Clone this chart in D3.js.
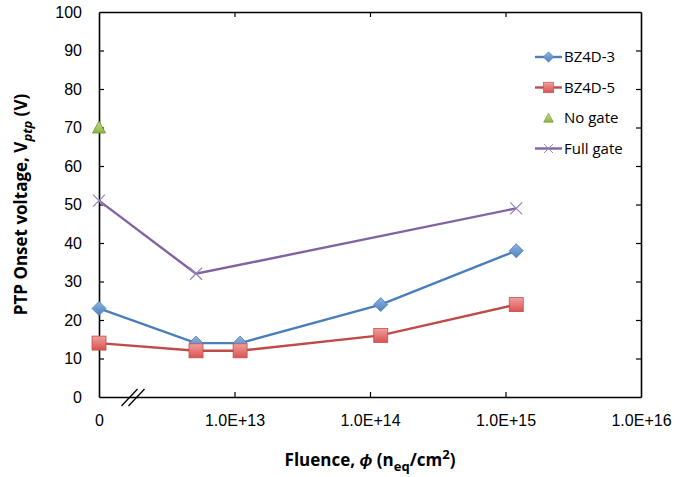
<!DOCTYPE html>
<html>
<head>
<meta charset="utf-8">
<script src="https://cdn.jsdelivr.net/npm/d3@7"></script>
<style>
  body { margin: 0; background: #fff; }
  svg { font-family: "Open Sans", "Liberation Sans", sans-serif; }
</style>
</head>
<body>
<div id="chart"></div>
<script>
// fluence 0 is drawn at the left edge (axis is broken there)
const fluenceBZ = [0, 5.2e12, 1.1e13, 1.2e14, 1.2e15];
const bz4d3 = [23, 14, 14, 24, 38];
const bz4d5 = [14, 12, 12, 16, 24];
const fluenceNoGate = [0];
const noGate = [70];
const fluenceFull = [0, 5.2e12, 1.2e15];
const fullGate = [51, 32, 49];

const xTickVals = [1e12, 1e13, 1e14, 1e15, 1e16];
const xTickLabels = ["0", "1.0E+13", "1.0E+14", "1.0E+15", "1.0E+16"];
const yTickVals = d3.range(0, 101, 10);

const W = 689, H = 477;
const m = {left: 99, top: 12, right: 48, bottom: 80};
const iw = W - m.left - m.right, ih = H - m.top - m.bottom;

const svg = d3.select("#chart").append("svg")
  .attr("width", W).attr("height", H);

const defs = svg.append("defs");
function grad(id, c1, c2) {
  const g = defs.append("linearGradient").attr("id", id)
    .attr("x1", 0).attr("y1", 0).attr("x2", 0).attr("y2", 1);
  g.append("stop").attr("offset", "0%").attr("stop-color", c1);
  g.append("stop").attr("offset", "100%").attr("stop-color", c2);
}
grad("gBlue", "#8fb3e0", "#4f81bd");
grad("gRed", "#f0a09e", "#d9534f");
grad("gGreen", "#c3dd8a", "#8db542");

const g = svg.append("g").attr("transform", `translate(${m.left},${m.top})`);

const x = d3.scaleLog().domain([1e12, 1e16]).range([0, iw]);
const fx = f => f === 0 ? x(1e12) : x(f);
const y = d3.scaleLinear().domain([0, 100]).range([ih, 0]);

// axes (ticks point inward, Excel style)
const xb = g.append("g").attr("transform", `translate(0,${ih})`)
  .call(d3.axisBottom(x).tickValues(xTickVals).tickSize(-5).tickSizeOuter(0)
    .tickFormat((d, i) => xTickLabels[i]));
const xt = g.append("g")
  .call(d3.axisTop(x).tickValues(xTickVals).tickSize(-5).tickSizeOuter(0).tickFormat(""));
const yl = g.append("g")
  .call(d3.axisLeft(y).tickValues(yTickVals).tickSize(-5).tickSizeOuter(0));
const yr = g.append("g").attr("transform", `translate(${iw},0)`)
  .call(d3.axisRight(y).tickValues(yTickVals).tickSize(-5).tickSizeOuter(0).tickFormat(""));

[xb, xt, yl, yr].forEach(a => {
  a.select(".domain").attr("stroke", "#000").attr("stroke-width", 1.6);
  a.selectAll(".tick line").attr("stroke", "#000").attr("stroke-width", 1.2);
  a.selectAll(".tick text").attr("fill", "#000").style("font-size", "16px");
});
xb.selectAll(".tick text").attr("dy", "1.65em");
yl.selectAll(".tick text").attr("x", -17);
// hide the edge ticks that sit on the frame
xb.selectAll(".tick line").filter((d, i) => i === 0 || i === 4).remove();
xt.selectAll(".tick line").filter((d, i) => i === 0 || i === 4).remove();
yl.selectAll(".tick line").filter((d, i) => i === 0 || i === 10).remove();
yr.selectAll(".tick line").filter((d, i) => i === 0 || i === 10).remove();

// axis break marks
const brk = g.append("g").attr("transform", `translate(${x(1e12) + 34},${ih})`);
[-3.5, 3.5].forEach(dx => {
  brk.append("line").attr("x1", dx - 8).attr("y1", 9).attr("x2", dx + 8).attr("y2", -8)
    .attr("stroke", "#000").attr("stroke-width", 1.3);
});

// series
const series = [
  {name: "BZ4D-3", xs: fluenceBZ, ys: bz4d3, color: "#4a7ebb", marker: "diamond", line: true},
  {name: "BZ4D-5", xs: fluenceBZ, ys: bz4d5, color: "#be4b48", marker: "square", line: true},
  {name: "No gate", xs: fluenceNoGate, ys: noGate, color: "#8db542", marker: "triangle", line: false},
  {name: "Full gate", xs: fluenceFull, ys: fullGate, color: "#8064a2", marker: "cross", line: true}
];

function drawMarker(sel, s) {
  if (s.marker === "diamond") {
    sel.append("path").attr("d", "M0,-7L7,0L0,7L-7,0Z")
      .attr("fill", "url(#gBlue)").attr("stroke", "#4a7ebb").attr("stroke-width", 0.8);
  } else if (s.marker === "square") {
    sel.append("rect").attr("x", -7).attr("y", -7).attr("width", 14).attr("height", 14)
      .attr("fill", "url(#gRed)").attr("stroke", "#c0504d").attr("stroke-width", 0.8);
  } else if (s.marker === "triangle") {
    sel.append("path").attr("d", "M0,-6.5L6.5,5.5L-6.5,5.5Z")
      .attr("fill", "url(#gGreen)").attr("stroke", "#6b8f2e").attr("stroke-width", 0.8);
  } else {
    sel.append("path").attr("d", "M-6,-6L6,6M-6,6L6,-6")
      .attr("stroke", "#9a86bb").attr("stroke-width", 1.3).attr("fill", "none");
  }
}

const lineGen = d3.line().x(d => fx(d[0])).y(d => y(d[1]));
series.forEach(s => {
  const pts = s.xs.map((v, i) => [v, s.ys[i]]);
  if (s.line) {
    g.append("path").datum(pts).attr("d", lineGen)
      .attr("fill", "none").attr("stroke", s.color).attr("stroke-width", 2.4);
  }
  pts.forEach(p => {
    const mk = g.append("g").attr("transform", `translate(${fx(p[0])},${y(p[1])})`);
    drawMarker(mk, s);
  });
});

// legend
const lg = svg.append("g").attr("transform", "translate(535,57)");
series.forEach((s, i) => {
  const row = lg.append("g").attr("transform", `translate(0,${i * 30.5})`);
  if (s.line) {
    row.append("line").attr("x1", 0).attr("x2", 27).attr("y1", 0).attr("y2", 0)
      .attr("stroke", s.color).attr("stroke-width", 2.4);
  }
  const mk = row.append("g").attr("transform", "translate(13.5,0) scale(0.75)");
  drawMarker(mk, s);
  row.append("text").attr("x", 29).attr("y", 0).attr("dy", "0.35em")
    .style("font-size", "15px").attr("fill", "#000").text(s.name);
});

// axis titles
const yt = svg.append("text")
  .attr("transform", `translate(27,${m.top + ih / 2}) rotate(-90)`)
  .attr("text-anchor", "middle").style("font-size", "17px").style("font-weight", "bold");
yt.append("tspan").text("PTP Onset voltage, V");
yt.append("tspan").attr("dy", 5).style("font-size", "13px").style("font-style", "italic").text("ptp");
yt.append("tspan").attr("dy", -5).text(" (V)");

const xtl = svg.append("text")
  .attr("x", m.left + iw / 2).attr("y", 466)
  .attr("text-anchor", "middle").style("font-size", "17px").style("font-weight", "bold");
xtl.append("tspan").text("Fluence, ");
xtl.append("tspan").style("font-style", "italic").text("ϕ");
xtl.append("tspan").text(" (n");
xtl.append("tspan").attr("dy", 5).style("font-size", "13px").text("eq");
xtl.append("tspan").attr("dy", -5).text("/cm");
xtl.append("tspan").attr("dy", -7).style("font-size", "13px").text("2");
xtl.append("tspan").attr("dy", 7).text(")");
</script>
</body>
</html>
